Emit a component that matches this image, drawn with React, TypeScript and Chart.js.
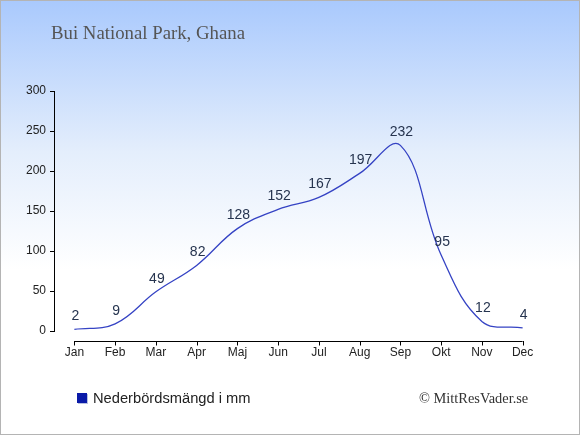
import { useEffect, useRef } from 'react';
import { Chart, registerables } from 'chart.js';

Chart.register(...registerables);

const months = ['Jan', 'Feb', 'Mar', 'Apr', 'Maj', 'Jun', 'Jul', 'Aug', 'Sep', 'Okt', 'Nov', 'Dec'];
const rainfall = [2, 9, 49, 82, 128, 152, 167, 197, 232, 95, 12, 4];
const yTicks = [0, 50, 100, 150, 200, 250, 300];

const seriesLabel = 'Nederbördsmängd i mm';
const lineColor = '#3543c4';

// value labels above every point
const valueLabels = {
  id: 'valueLabels',
  afterDatasetsDraw(chart: Chart) {
    const ctx = chart.ctx;
    const meta = chart.getDatasetMeta(0);
    ctx.save();
    ctx.font = '14px "Liberation Sans", Arial, sans-serif';
    ctx.fillStyle = '#26344f';
    ctx.textAlign = 'center';
    ctx.textBaseline = 'middle';
    meta.data.forEach((pt, i) => {
      ctx.fillText(String(rainfall[i]), pt.x + 1, pt.y - 13);
    });
    ctx.restore();
  },
};

// detached x axis line, sitting a little below the plot
const xAxisLine = {
  id: 'xAxisLine',
  afterDraw(chart: Chart) {
    const ctx = chart.ctx;
    const x = chart.scales.x;
    const y = chart.chartArea.bottom + 10.5;
    const x0 = x.getPixelForValue(0);
    const x1 = x.getPixelForValue(months.length - 1);
    ctx.save();
    ctx.strokeStyle = '#000';
    ctx.lineWidth = 1;
    ctx.beginPath();
    ctx.moveTo(x0, y);
    ctx.lineTo(x1, y);
    months.forEach((_, i) => {
      const px = Math.round(x.getPixelForValue(i)) + 0.5;
      ctx.moveTo(px, y - 0.5);
      ctx.lineTo(px, y + 4);
    });
    ctx.stroke();
    ctx.restore();
  },
};

export default function App() {
  const canvasRef = useRef<HTMLCanvasElement>(null);
  const chartRef = useRef<Chart | null>(null);

  useEffect(() => {
    if (!canvasRef.current) return;
    if (chartRef.current) chartRef.current.destroy();

    chartRef.current = new Chart(canvasRef.current, {
      type: 'line',
      data: {
        labels: months,
        datasets: [{
          label: seriesLabel,
          data: rainfall,
          borderColor: lineColor,
          borderWidth: 1.3,
          pointRadius: 0,
          tension: 0.4,
          fill: false,
        }],
      },
      options: {
        responsive: false,
        animation: false,
        layout: { padding: { top: 91, right: 37, left: 0, bottom: 0 } },
        plugins: {
          legend: { display: false },
          tooltip: { enabled: false },
        },
        scales: {
          x: {
            offset: true,
            border: { display: false },
            grid: { display: false, drawTicks: false },
            ticks: {
              color: '#222',
              padding: 14,
              font: { family: '"Liberation Sans", Arial, sans-serif', size: 12 },
            },
            afterFit(scale) { scale.height = 104; },
          },
          y: {
            min: 0,
            max: 300,
            afterBuildTicks(scale) { scale.ticks = yTicks.map(v => ({ value: v })); },
            border: { display: true, color: '#000', width: 1 },
            grid: { drawOnChartArea: false, tickLength: 4, color: '#000' },
            ticks: {
              color: '#222',
              padding: 4,
              font: { family: '"Liberation Sans", Arial, sans-serif', size: 12 },
            },
            afterFit(scale) { scale.width = 54; },
          },
        },
      },
      plugins: [valueLabels, xAxisLine],
    });

    return () => {
      if (chartRef.current) {
        chartRef.current.destroy();
        chartRef.current = null;
      }
    };
  }, []);

  return (
    <div style={{
      position: 'absolute', left: 0, top: 0, width: 580, height: 435,
      background: 'linear-gradient(#a9c9fd 0%, #e4eefc 35%, #ffffff 62%, #ffffff 100%)',
      boxShadow: 'inset 0 0 0 1px #b4b4b4',
    }}>
      <canvas ref={canvasRef} width={580} height={435} style={{ position: 'absolute', left: 0, top: 0 }} />
      <div style={{
        position: 'absolute', left: 51, top: 22, lineHeight: '19px',
        font: '18.8px "Liberation Serif", Georgia, serif', color: '#555', whiteSpace: 'nowrap',
      }}>Bui National Park, Ghana</div>
      <div style={{ position: 'absolute', left: 77, top: 393, width: 10, height: 10, background: '#0a1aa8', boxShadow: '1px 1px 0 #b8c0e0' }} />
      <div style={{
        position: 'absolute', left: 93, top: 390, lineHeight: '16px',
        font: '14.7px "Liberation Sans", Arial, sans-serif', color: '#222', whiteSpace: 'nowrap',
      }}>{seriesLabel}</div>
      <div style={{
        position: 'absolute', left: 419, top: 390, lineHeight: '16px',
        font: '14.4px "Liberation Serif", Georgia, serif', color: '#333', whiteSpace: 'nowrap',
      }}>© MittResVader.se</div>
    </div>
  );
}
